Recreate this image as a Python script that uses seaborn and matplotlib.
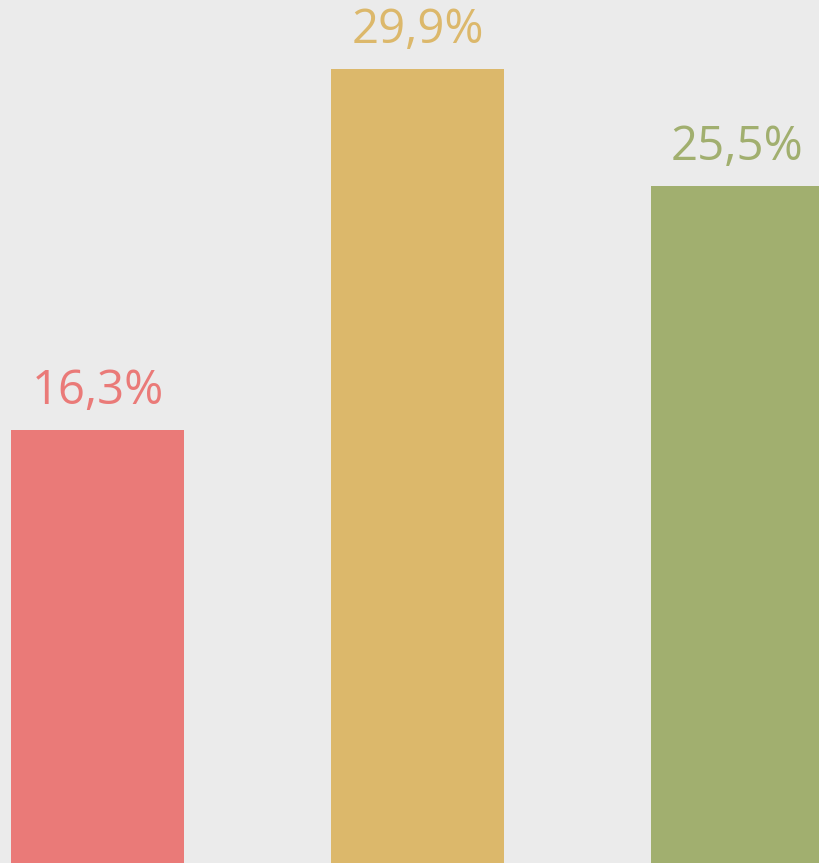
import matplotlib
matplotlib.use("Agg")
import matplotlib.pyplot as plt
import seaborn as sns
import pandas as pd

# data
categories = ["A", "B", "C"]
values = [16.3, 29.9, 25.5]
labels = ["16,3%", "29,9%", "25,5%"]
colors = ["#EA7A78", "#DCB86B", "#A1AF6F"]

df = pd.DataFrame({"cat": categories, "val": values})

sns.set_theme(style="white")
plt.rcParams["font.family"] = ["Open Sans", "DejaVu Sans"]

fig = plt.figure(figsize=(8.2, 8.63), dpi=100)
fig.patch.set_facecolor("#EBEBEB")
ax = fig.add_axes([0, 0, 1, 1])
ax.set_facecolor("#EBEBEB")

sns.barplot(data=df, x="cat", y="val", hue="cat", palette=colors,
            width=0.54, legend=False, ax=ax, saturation=1, linewidth=0)

for i, (v, lab) in enumerate(zip(values, labels)):
    ax.annotate(lab, (i, v), xytext=(0, 18.5), textcoords="offset points",
                ha="center", va="baseline", fontsize=34, color=colors[i])

ax.set_xlim(-0.305, 2.258)
ax.set_ylim(0, 32.49)
ax.axis("off")

fig.savefig("out.png", dpi=100, facecolor=fig.get_facecolor())
